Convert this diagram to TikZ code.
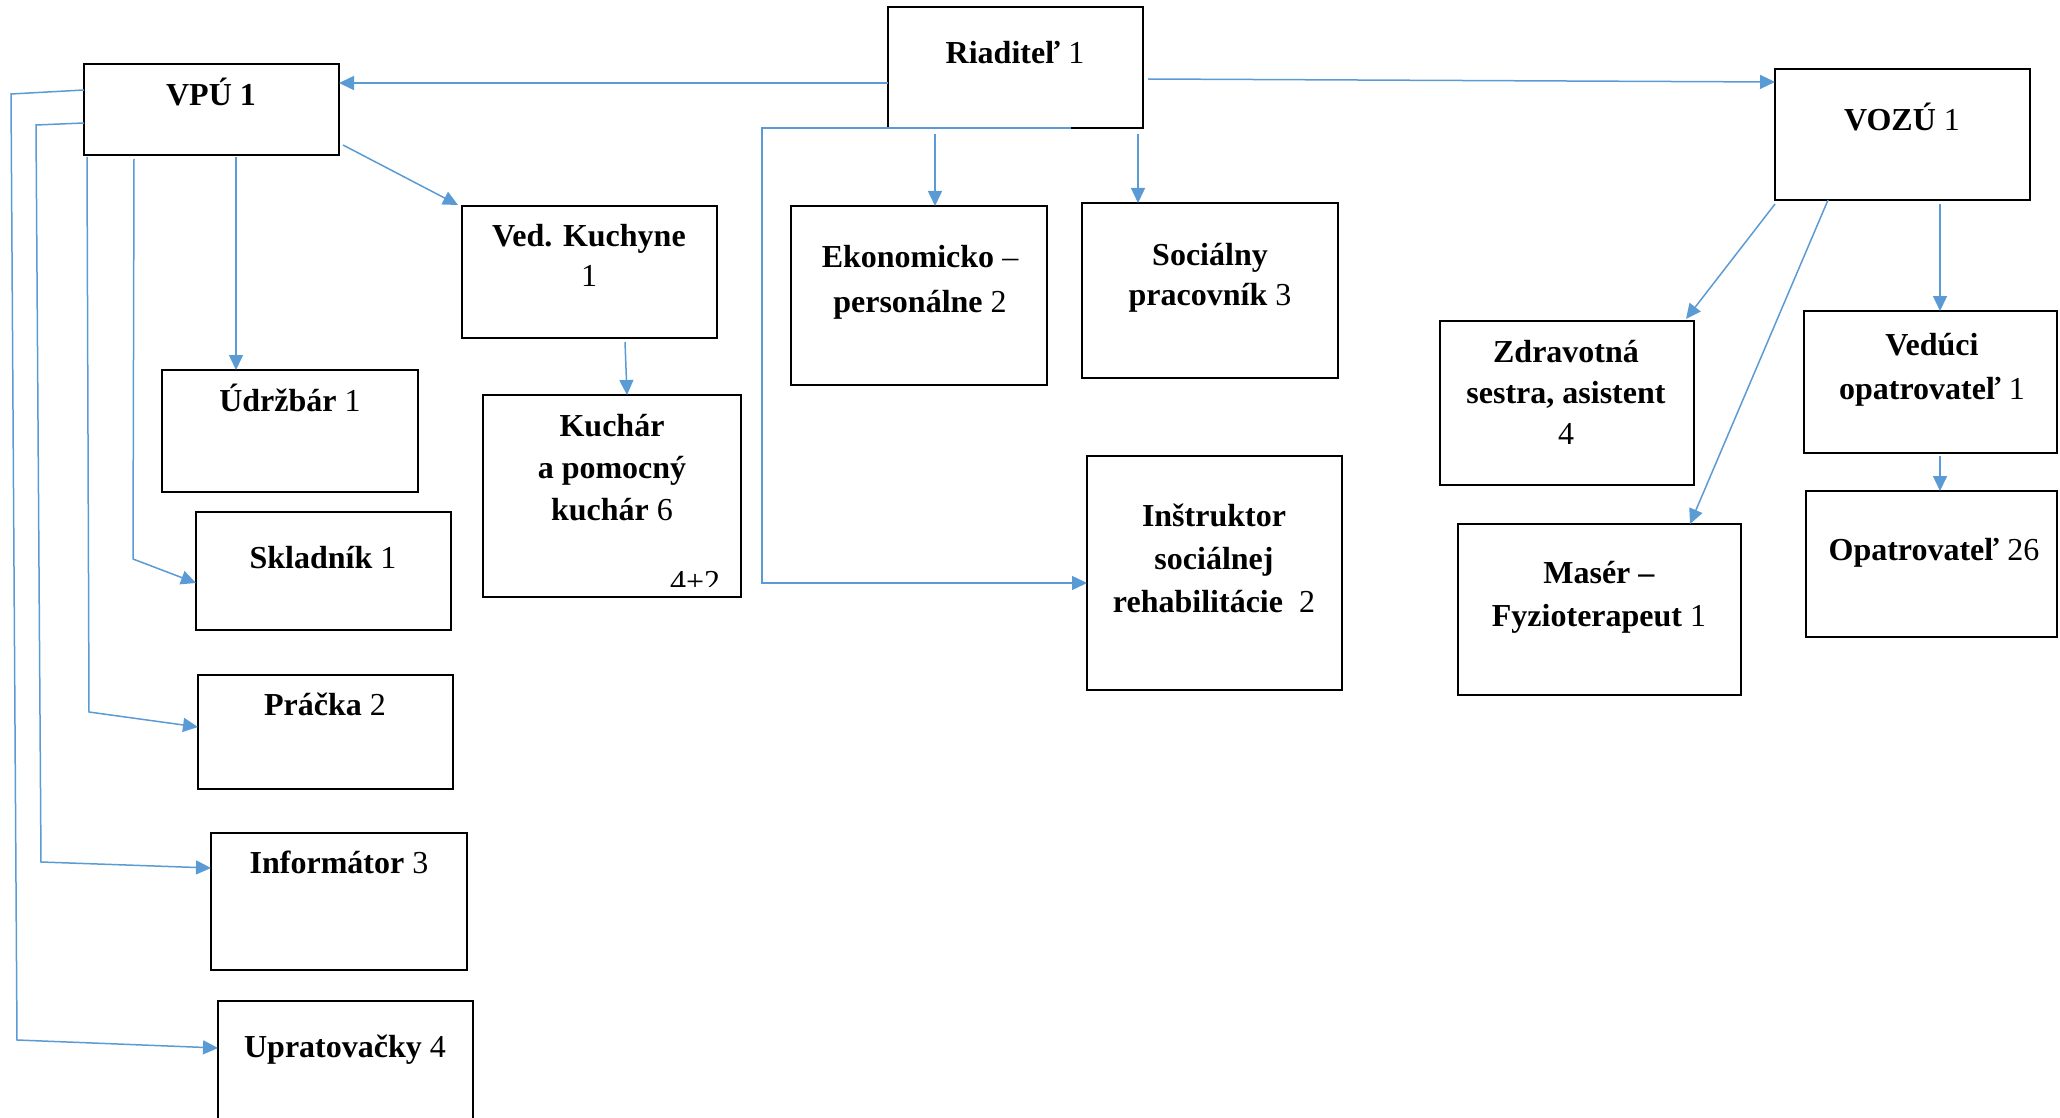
\documentclass[tikz,border=0pt]{standalone}
\usepackage{fontspec}
\setmainfont{Liberation Serif}
\usetikzlibrary{arrows.meta,calc}
\definecolor{lnblue}{HTML}{5B9BD5}
\newcommand\ml[2]{\fontsize{16pt}{#1}\selectfont\begin{tabular}[t]{@{}c@{}}#2\end{tabular}}
\newcommand\bx[5]{\node[box, minimum width={(#4-#2)*0.5pt}, minimum height={(#5-#3)*0.5pt}] (#1) at ({(#2+#4)/2},{(#3+#5)/2}) {};}
\begin{document}
\begin{tikzpicture}[x=0.5pt,y=-0.5pt,
  box/.style={draw=black, line width=1.4pt, inner sep=0pt, outer sep=0pt},
  tx/.style={anchor=base, inner sep=0pt, outer sep=0pt},
  arr/.style={draw=lnblue, line width=0.75pt, -{Triangle[length=7.5pt,width=7pt]}}]
\useasboundingbox (0,0) rectangle (2060,1118);
\clip (0,0) rectangle (2060,1118);
% boxes
\bx{riad}{888}{7}{1143}{128}
\bx{vpu}{84}{64}{339}{155}
\bx{vozu}{1775}{69}{2030}{200}
\bx{kuch}{462}{206}{717}{338}
\bx{udr}{162}{370}{418}{492}
\bx{kuchar}{483}{395}{741}{597}
\bx{sklad}{196}{512}{451}{630}
\bx{pracka}{198}{675}{453}{789}
\bx{info}{211}{833}{467}{970}
\bx{uprat}{218}{1001}{473}{1140}
\bx{eko}{791}{206}{1047}{385}
\bx{soc}{1082}{203}{1338}{378}
\bx{inst}{1087}{456}{1342}{690}
\bx{zdrav}{1440}{321}{1694}{485}
\bx{vedu}{1804}{311}{2057}{453}
\bx{masr}{1458}{524}{1741}{695}
\bx{opat}{1806}{491}{2057}{637}
% texts
\node[tx] (t-riad) at (1015,64) {\ml{21pt}{\textbf{Riaditeľ} 1}};
\node[tx] (t-vpu) at (211,106) {\ml{21pt}{\textbf{VPÚ 1}}};
\node[tx] (t-vozu) at (1902,131) {\ml{21pt}{\textbf{VOZÚ} 1}};
\node[tx] (t-kuch) at (589,247) {\ml{20pt}{\textbf{Ved. Kuchyne}\\1}};
\node[tx] (t-udr) at (290,411) {\ml{21pt}{\textbf{Údržbár} 1}};
\node[tx] (t-kuchar) at (612,436) {\ml{21pt}{\textbf{Kuchár}\\\textbf{a pomocný}\\\textbf{kuchár} 6}};
\node[tx] (t-sklad) at (323,568) {\ml{21pt}{\textbf{Skladník} 1}};
\node[tx] (t-pracka) at (325,715) {\ml{21pt}{\textbf{Práčka} 2}};
\node[tx] (t-info) at (339,873) {\ml{21pt}{\textbf{Informátor} 3}};
\node[tx] (t-uprat) at (345,1057) {\ml{21pt}{\textbf{Upratovačky} 4}};
\node[tx] (t-eko) at (920,268) {\ml{22pt}{\textbf{Ekonomicko} –\\\textbf{personálne} 2}};
\node[tx] (t-soc) at (1210,265) {\ml{20pt}{\textbf{Sociálny}\\\textbf{pracovník} 3}};
\node[tx] (t-inst) at (1214,526) {\ml{21.5pt}{\textbf{Inštruktor}\\\textbf{sociálnej}\\\textbf{rehabilitácie}\ \ 2}};
\node[tx] (t-zdrav) at (1566,362) {\ml{20.5pt}{\textbf{Zdravotná}\\\textbf{sestra, asistent}\\4}};
\node[tx] (t-vedu) at (1932,355) {\ml{22pt}{\textbf{Vedúci}\\\textbf{opatrovateľ} 1}};
\node[tx] (t-masr) at (1599,583) {\ml{21.5pt}{\textbf{Masér –}\\\textbf{Fyzioterapeut} 1}};
\node[tx] (t-opat) at (1934,560) {\ml{21pt}{\textbf{Opatrovateľ} 26}};
\begin{scope}
\clip (660,555) rectangle (740,586);
\node[tx, anchor=base west] (t-kuchar-n) at (670,592) {\fontsize{16pt}{21pt}\selectfont 4+2.};
\end{scope}
% connectors
\draw[arr] (riad.west |- 0,83) -- (vpu.east |- 0,83);
\draw[arr] ($(riad.east |- 0,79)+(5,0)$) -- (vozu.west |- 0,82);
\draw[arr] (riad.south -| 1071,0) -- (762,128) -- (762,583) -- (inst.west |- 0,583);
\draw[arr] ($(riad.south -| 935,0)+(0,6)$) -- (eko.north -| 935,0);
\draw[arr] ($(riad.south -| 1138,0)+(0,6)$) -- (soc.north -| 1138,0);
\draw[arr] ($(vpu.south east)+(4,-10)$) -- ($(kuch.north west)+(-4,-1)$);
\draw[arr] ($(vpu.south -| 236,0)+(0,2)$) -- (udr.north -| 236,0);
\draw[arr] ($(kuch.south -| 625,0)+(0,4)$) -- (kuchar.north -| 627,0);
\draw[arr] ($(vpu.south -| 134,0)+(0,4)$) -- (133,559) -- (sklad.west |- 0,583);
\draw[arr] ($(vpu.south -| 87,0)+(0,2)$) -- (89,712) -- (pracka.west |- 0,727);
\draw[arr] (vpu.west |- 0,123) -- (36,125) -- (41,862) -- (info.west |- 0,868);
\draw[arr] (vpu.west |- 0,90) -- (11,94) -- (17,1040) -- (uprat.west |- 0,1048);
\draw[arr] ($(vozu.south west)+(0,4)$) -- ($(zdrav.north east)+(-8,-2)$);
\draw[arr] (vozu.south -| 1828,0) -- (masr.north -| 1690,0);
\draw[arr] ($(vozu.south -| 1940,0)+(0,4)$) -- (vedu.north -| 1940,0);
\draw[arr] ($(vedu.south -| 1940,0)+(0,3)$) -- (opat.north -| 1940,0);
\end{tikzpicture}
\end{document}
